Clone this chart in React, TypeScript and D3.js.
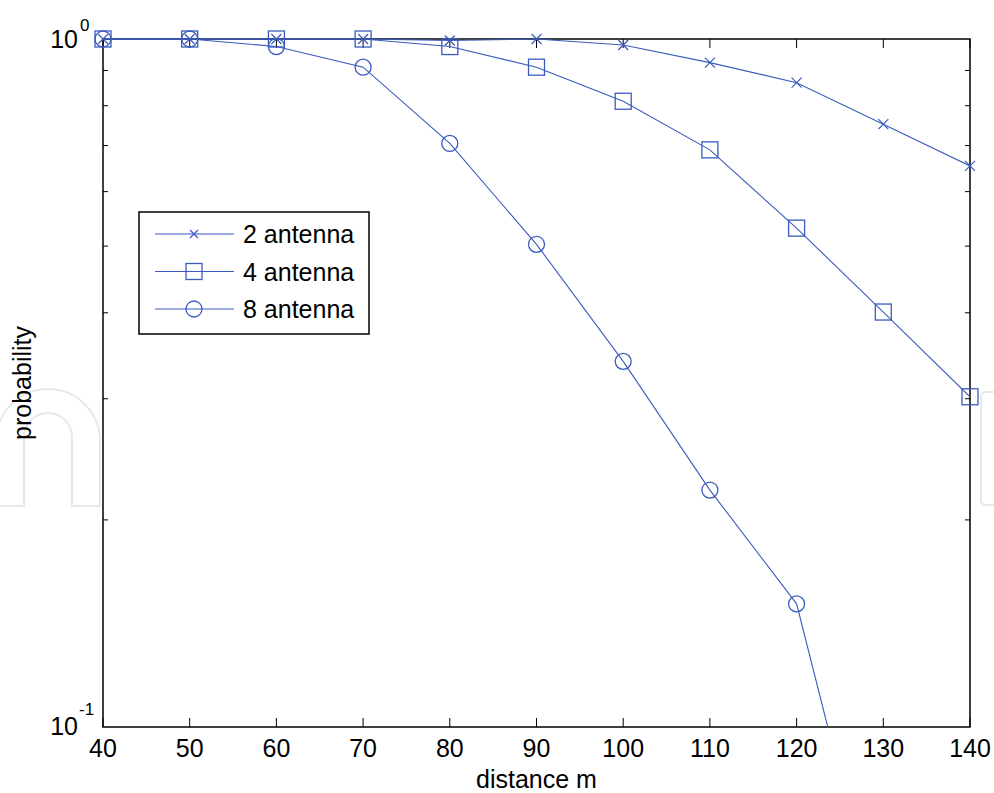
import React from "react";
import * as d3 from "d3";

const distances = [40, 50, 60, 70, 80, 90, 100, 110, 120, 130, 140];
const antenna2 = [1, 1, 1, 1, 0.995, 1, 0.98, 0.924, 0.864, 0.752, 0.654];
const antenna4 = [1, 1, 1, 1, 0.975, 0.91, 0.812, 0.69, 0.531, 0.401, 0.302];
const antenna8 = [1, 1, 0.975, 0.91, 0.705, 0.503, 0.34, 0.221, 0.151, 0.048, 0.015];
const seriesNames = ["2 antenna", "4 antenna", "8 antenna"];
const xTicks = [40, 50, 60, 70, 80, 90, 100, 110, 120, 130, 140];
const yMinorTicks = [0.2, 0.3, 0.4, 0.5, 0.6, 0.7, 0.8, 0.9];

const W = 994;
const H = 793;
const L = 103, R = 970, T = 39, B = 727;
const BLUE = "#3a5bbd";
const FONT = "Liberation Sans, Arial, sans-serif";

function Marker({ kind, x, y, s }: { kind: string; x: number; y: number; s: number }) {
  if (kind === "x") {
    const h = s / 2;
    return (
      <path d={`M${x - h},${y - h}L${x + h},${y + h}M${x - h},${y + h}L${x + h},${y - h}`} stroke={BLUE} strokeWidth={1.2} fill="none" />
    );
  }
  if (kind === "s") {
    return <rect x={x - s / 2} y={y - s / 2} width={s} height={s} stroke={BLUE} strokeWidth={1.3} fill="none" />;
  }
  return <circle cx={x} cy={y} r={s / 2} stroke={BLUE} strokeWidth={1.3} fill="none" />;
}

export default function App() {
  const x = d3.scaleLinear().domain([40, 140]).range([L, R]);
  const y = d3.scaleLog().domain([0.1, 1]).range([B, T]);
  const line = d3
    .line<number>()
    .x((_, i) => x(distances[i]))
    .y((d) => y(d));

  const series = [
    { name: seriesNames[0], data: antenna2, kind: "x", size: 10 },
    { name: seriesNames[1], data: antenna4, kind: "s", size: 16 },
    { name: seriesNames[2], data: antenna8, kind: "o", size: 16 },
  ];
  const legendSizes = [8, 16, 16];

  return (
    <svg width={W} height={H} style={{ position: "absolute", left: 0, top: 0, background: "#fff" }} fontFamily={FONT}>
      <rect x={0} y={0} width={W} height={H} fill="#fff" />
      {/* watermark */}
      <g stroke="#e8e8e8" strokeWidth={2} fill="none">
        <path d="M -4 506 L -4 441 A 52 52 0 0 1 100 441 L 100 506 L 72 506 L 72 437 A 24 24 0 0 0 24 437 L 24 506 Z" />
        <path d="M 996 392 L 986 392 Q 981 392 981 397 L 981 500 Q 981 505 986 505 L 996 505" />
      </g>
      <defs>
        <clipPath id="plotclip">
          <rect x={L} y={T - 1} width={R - L} height={B - T + 1} />
        </clipPath>
      </defs>
      {/* axes box */}
      <rect x={L} y={T} width={R - L} height={B - T} fill="none" stroke="#000" strokeWidth={1.5} />
      {/* x ticks */}
      {xTicks.map((t) => (
        <g key={"xt" + t}>
          <line x1={x(t)} x2={x(t)} y1={B} y2={B - 9} stroke="#000" strokeWidth={1} />
          <line x1={x(t)} x2={x(t)} y1={T} y2={T + 9} stroke="#000" strokeWidth={1} />
          <text x={x(t)} y={757} fontSize={25} textAnchor="middle" fill="#000">
            {t}
          </text>
        </g>
      ))}
      {/* y minor ticks */}
      {yMinorTicks.map((t) => (
        <g key={"yt" + t}>
          <line x1={L} x2={L + 5} y1={y(t)} y2={y(t)} stroke="#000" strokeWidth={1} />
          <line x1={R} x2={R - 5} y1={y(t)} y2={y(t)} stroke="#000" strokeWidth={1} />
        </g>
      ))}
      {/* y labels */}
      <text x={78} y={y(1) + 9} fontSize={25} textAnchor="end" fill="#000">10</text>
      <text x={80} y={y(1) - 8} fontSize={17} fill="#000">0</text>
      <text x={78} y={y(0.1) + 8} fontSize={25} textAnchor="end" fill="#000">10</text>
      <text x={79} y={y(0.1) - 12} fontSize={17} fill="#000">-1</text>
      {/* axis titles */}
      <text x={(L + R) / 2} y={788} fontSize={25} textAnchor="middle" fill="#000">distance m</text>
      <text transform={`translate(31,${(T + B) / 2}) rotate(-90)`} fontSize={25} textAnchor="middle" fill="#000">probability</text>
      {/* lines */}
      <g clipPath="url(#plotclip)">
        {series.map((s) => (
          <path key={s.name} d={line(s.data) || ""} fill="none" stroke={BLUE} strokeWidth={1.1} />
        ))}
      </g>
      {/* markers */}
      {series.map((s) =>
        s.data.map((v, i) =>
          v >= 0.1 ? <Marker key={s.name + i} kind={s.kind} x={x(distances[i])} y={y(v)} s={s.size} /> : null
        )
      )}
      {/* legend */}
      <rect x={139} y={212} width={230} height={122} fill="#fff" stroke="#000" strokeWidth={1.5} />
      {series.map((s, i) => {
        const ly = 234 + i * 37.5;
        return (
          <g key={"lg" + i}>
            <line x1={155} x2={234} y1={ly} y2={ly} stroke={BLUE} strokeWidth={1.1} />
            <Marker kind={s.kind} x={194} y={ly} s={legendSizes[i]} />
            <text x={243} y={ly + 9} fontSize={25} fill="#000">{s.name}</text>
          </g>
        );
      })}
    </svg>
  );
}
